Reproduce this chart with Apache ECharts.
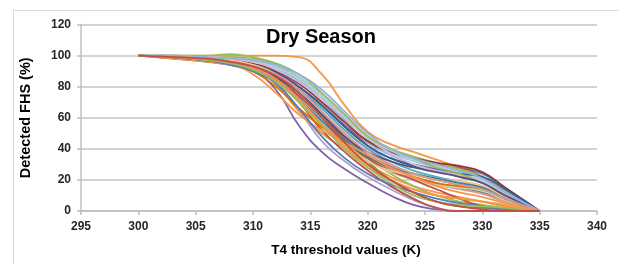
<!DOCTYPE html>
<html>
<head>
<meta charset="utf-8">
<script src="https://cdn.jsdelivr.net/npm/echarts@6/dist/echarts.min.js"></script>
<style>
  html, body { margin: 0; padding: 0; background: #fff; }
  #frame { position: absolute; left: 13px; top: 10px; width: 640px; height: 300px; border: 1.5px solid #d9d9d9; }
  #chart { position: absolute; left: 0; top: 0; width: 619px; height: 264px; }
</style>
</head>
<body>
<div id="frame"></div>
<div id="chart"></div>
<script>
// T4 threshold (K) sample points shared by all curves
var xValues = [300, 303, 306, 308, 310, 312, 314, 316, 318, 320, 322, 324, 326, 328, 330, 332, 335];
var yTicks = [0, 20, 40, 60, 80, 100, 120];
var xTicks = [295, 300, 305, 310, 315, 320, 325, 330, 335, 340];

// detected FHS (%) per curve
var curves = [
  [100,100,100,100,100,100,99,88,68,51,43,38,33,28,22,12,0],
  [100,99,98,97,95,91,84,72,58,45,38,34,31,28,24,15,0],
  [100,99,97,96,93,88,80,68,55,44,38,33,30,28,22,12,0],
  [100,100,99,99,98,94,86,74,60,47,40,35,31,27,22,13,0],
  [100,98,96,94,90,78,55,38,27,18,10,4,1,0,0,0,0],
  [100,99,97,95,91,82,65,45,32,22,14,7,2,0,0,0,0],
  [100,99,98,96,93,86,74,60,47,36,29,24,20,17,14,8,0],
  [100,100,99,98,96,92,84,72,58,44,36,30,26,22,18,10,0],
  [100,99,98,96,92,82,64,50,40,30,22,16,12,9,6,3,0],
  [100,99,97,95,91,84,70,52,38,26,16,8,2,0,0,0,0],
  [100,99,98,97,94,88,78,64,48,34,24,16,10,6,4,2,0],
  [100,100,99,98,95,90,80,66,52,40,30,24,20,18,16,10,0],
  [100,99,97,95,92,86,76,62,48,36,28,22,18,15,12,7,0],
  [100,99,98,96,93,86,72,56,44,35,27,21,17,14,11,6,0],
  [100,100,99,98,97,93,86,75,62,48,38,32,28,24,20,12,0],
  [100,99,98,97,94,89,80,68,55,42,34,30,27,25,21,12,0],
  [100,99,98,96,92,84,70,55,42,32,25,20,17,15,13,7,0],
  [100,98,96,94,90,84,72,56,40,28,20,14,10,8,6,3,0],
  [100,99,98,96,93,87,78,66,52,40,32,26,22,19,16,9,0],
  [100,99,98,97,95,90,82,70,57,45,38,34,31,29,25,15,0],
  [100,100,99,98,96,92,85,74,61,48,39,33,29,25,20,12,0],
  [100,99,97,95,92,86,76,62,46,32,20,12,6,3,2,1,0],
  [100,99,97,95,90,80,66,54,44,36,28,22,18,16,14,8,0],
  [100,99,98,96,94,89,80,68,54,42,34,29,26,24,22,14,0],
  [100,99,97,95,92,85,74,60,46,34,26,20,14,8,3,1,0],
  [100,100,99,98,96,91,83,72,60,47,37,30,26,23,19,11,0],
  [100,99,98,97,94,88,76,60,44,32,26,23,21,19,16,9,0],
  [100,99,98,96,92,85,72,58,45,35,28,24,21,18,15,8,0],
  [100,100,100,101,99,95,88,76,62,48,40,34,28,24,18,10,0],
  [100,99,97,95,92,86,76,62,48,38,32,28,25,22,18,10,0],
  [100,100,99,98,97,94,88,78,64,50,40,34,30,26,21,12,0],
  [100,99,98,95,88,76,62,52,44,36,28,22,16,12,9,5,0],
  [100,99,98,96,93,88,78,64,50,38,30,24,20,17,14,8,0],
  [100,99,97,94,90,82,66,48,34,24,17,12,8,5,3,1,0],
  [100,99,97,95,91,83,70,55,40,28,18,10,6,4,3,2,0],
  [100,99,98,96,92,85,72,56,42,30,20,14,10,8,6,4,0],
  [100,99,98,96,93,87,76,60,44,30,20,12,6,3,1,0,0]
];

var colors = ['#F79646','#4F81BD','#C0504D','#9BBB59','#8064A2','#B2A2C7','#4BACC6','#95B3D7',
  '#F79646','#C0504D','#9BBB59','#FAC090','#4F81BD','#D99694','#93CDDD','#8064A2','#C3D69B',
  '#F79646','#4BACC6','#953735','#B9CDE5','#77933C','#E46C0A','#376092','#C0504D','#CCC1DA',
  '#FAC090','#31859C','#9BBB59','#5F497A','#95B3D7','#F79646','#D99694','#4F81BD',
  '#9BBB59','#F79646','#C0504D'];

var series = curves.map(function (vals, i) {
  return {
    type: 'line',
    smooth: 0.5,
    symbol: 'none',
    lineStyle: { width: 1.8, color: colors[i] },
    data: vals.map(function (v, j) { return [xValues[j], v]; })
  };
});

var labelFont = { fontFamily: 'Liberation Sans', fontWeight: 'bold', fontSize: 12, color: '#262626' };

var myChart = echarts.init(document.getElementById('chart'));
myChart.setOption({
  animation: false,
  backgroundColor: 'transparent',
  title: {
    text: 'Dry Season',
    left: 316,
    top: 22,
    textAlign: 'center',
    textStyle: { fontFamily: 'Liberation Sans', fontWeight: 'bold', fontSize: 20, color: '#000' }
  },
  grid: { left: 81, right: 22, top: 24.5, bottom: 53 },
  xAxis: {
    type: 'value',
    min: xTicks[0],
    max: xTicks[xTicks.length - 1],
    interval: 5,
    name: 'T4 threshold values (K)',
    nameLocation: 'middle',
    nameGap: 32,
    nameTextStyle: { fontFamily: 'Liberation Sans', fontWeight: 'bold', fontSize: 13.5, color: '#000', padding: [0, 0, 0, 14] },
    axisLine: { lineStyle: { color: '#bfbfbf', width: 1.5 } },
    axisTick: { show: true, length: 4, lineStyle: { color: '#bfbfbf', width: 1.5 } },
    axisLabel: Object.assign({ margin: 10 }, labelFont),
    splitLine: { show: false }
  },
  yAxis: {
    type: 'value',
    min: yTicks[0],
    max: yTicks[yTicks.length - 1],
    interval: 20,
    name: 'Detected FHS (%)',
    nameLocation: 'middle',
    nameGap: 36,
    nameTextStyle: { fontFamily: 'Liberation Sans', fontWeight: 'bold', fontSize: 14.5, color: '#000', padding: [0, 0, 12, 0] },
    axisLine: { show: true, lineStyle: { color: '#bfbfbf', width: 1.5 } },
    axisTick: { show: true, length: 4, lineStyle: { color: '#bfbfbf', width: 1.5 } },
    axisLabel: Object.assign({ margin: 10 }, labelFont),
    splitLine: { lineStyle: { color: '#c4c4c4', width: 1.5 } }
  },
  series: series
});
</script>
</body>
</html>
